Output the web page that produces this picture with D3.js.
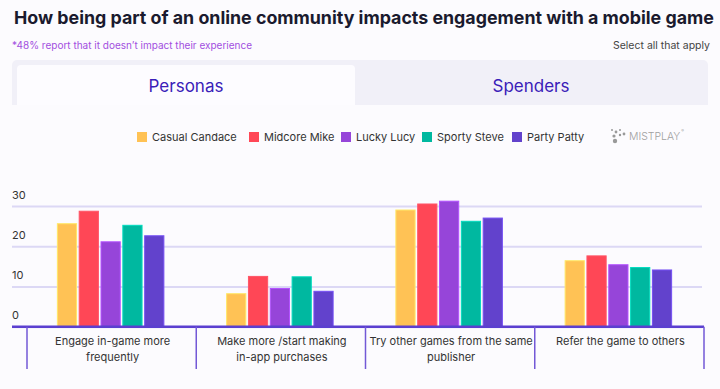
<!DOCTYPE html>
<html>
<head>
<meta charset="utf-8">
<script src="https://cdn.jsdelivr.net/npm/d3@7"></script>
<style>
  html, body { margin: 0; padding: 0; background: #fcfbfe; }
  svg { display: block; font-family: Inter, "Noto Sans", sans-serif; }
</style>
</head>
<body>
<svg id="chart" width="720" height="389"></svg>
<script>
const categories = [
  ['Engage in-game more', 'frequently'],
  ['Make more /start making', 'in-app purchases'],
  ['Try other games from the same', 'publisher'],
  ['Refer the game to others']
];
const seriesNames = ['Casual Candace', 'Midcore Mike', 'Lucky Lucy', 'Sporty Steve', 'Party Patty'];
const seriesColors = ['#ffc255', '#ff4756', '#9645d9', '#00b8a0', '#6242cc'];
const casualCandace = [25.6, 8.2, 29.0, 16.4];
const midcoreMike = [28.7, 12.5, 30.5, 17.6];
const luckyLucy = [21.1, 9.5, 31.2, 15.4];
const sportySteve = [25.2, 12.4, 26.2, 14.7];
const partyPatty = [22.6, 8.8, 27.0, 14.1];
const yTicks = [0, 10, 20, 30];

const values = [casualCandace, midcoreMike, luckyLucy, sportySteve, partyPatty];
const svg = d3.select('#chart');

// title
const title = svg.append('text')
  .attr('x', 14).attr('y', 24)
  .style('font-weight', 700)
  .style('font-size', '17px')
  .style('fill', '#1a1a2e')
  .text('How being part of an online community impacts engagement with a mobile game');
const tw = title.node().getComputedTextLength();
title.style('font-size', (17 * 700 / tw) + 'px');

svg.append('text')
  .attr('x', 12).attr('y', 49)
  .style('font-size', '10px')
  .style('fill', '#a24fe0')
  .text('*48% report that it doesn\u2019t impact their experience');

svg.append('text')
  .attr('x', 710).attr('y', 49)
  .attr('text-anchor', 'end')
  .style('font-size', '10.5px')
  .style('fill', '#444')
  .text('Select all that apply');

// tabs
svg.append('rect')
  .attr('x', 12).attr('y', 60).attr('width', 696).attr('height', 50)
  .attr('rx', 5).attr('fill', '#f1f0f8');
svg.append('rect')
  .attr('x', 17).attr('y', 65).attr('width', 338).attr('height', 45)
  .attr('rx', 4).attr('fill', '#fdfcff');
svg.append('rect')
  .attr('x', 0).attr('y', 105).attr('width', 720).attr('height', 10)
  .attr('fill', '#fcfbfe');
svg.selectAll('.tab')
  .data(['Personas', 'Spenders'])
  .join('text')
  .attr('class', 'tab')
  .attr('x', (d, i) => (i === 0 ? 186 : 531))
  .attr('y', 92)
  .attr('text-anchor', 'middle')
  .style('font-size', '17px')
  .style('fill', '#3a20b8')
  .text((d) => d);

// legend
const legendX = [137, 249, 341, 422, 512];
const legend = svg.selectAll('.legend')
  .data(seriesNames)
  .join('g')
  .attr('class', 'legend')
  .attr('transform', (d, i) => `translate(${legendX[i]},132)`);
legend.append('rect')
  .attr('width', 10).attr('height', 10)
  .attr('fill', (d, i) => seriesColors[i]);
legend.append('text')
  .attr('x', 15).attr('y', 9)
  .style('font-size', '11px')
  .style('fill', '#333')
  .text((d) => d);

// mistplay logo
const logo = svg.append('g').attr('transform', 'translate(611,129)');
[[1, 1, 1], [5, 3, 1.4], [9, 1, 1], [3, 7, 1.6], [9, 6, 1.2], [4, 12, 2.2], [13, 5, 1.4]].forEach((p) => {
  logo.append('circle').attr('cx', p[0]).attr('cy', p[1]).attr('r', p[2]).attr('fill', '#999');
});
const logoText = logo.append('text')
  .attr('x', 18).attr('y', 11)
  .style('font-size', '10.5px')
  .style('font-weight', 300)
  .style('fill', '#a0a0a0')
  .text('MISTPLAY');
logo.append('text')
  .attr('x', 19 + logoText.node().getComputedTextLength())
  .attr('y', 3)
  .style('font-size', '4px')
  .style('fill', '#a0a0a0')
  .text('\u00ae');

// scales
const x0 = d3.scaleBand()
  .domain(d3.range(categories.length))
  .range([26, 703]);
const x1 = d3.scaleBand()
  .domain(d3.range(seriesNames.length))
  .range([0, 106.5])
  .paddingInner(0.12);
const y = d3.scaleLinear().domain([0, 30]).range([326.7, 206]);

// grid + tick labels
const yAxis = svg.append('g')
  .attr('transform', 'translate(12,0)')
  .call(d3.axisRight(y).tickValues(yTicks).tickSize(690));
yAxis.select('.domain').remove();
yAxis.selectAll('.tick line')
  .attr('stroke', '#dcd8f5')
  .attr('stroke-width', 2);
yAxis.selectAll('.tick text')
  .attr('x', 0).attr('dy', -8)
  .attr('text-anchor', 'start')
  .style('font-size', '11px')
  .style('font-family', 'Inter, "Noto Sans", sans-serif')
  .style('fill', '#333');

// bars
const groups = svg.selectAll('.group')
  .data(categories.map((c, ci) => values.map((s, si) => ({ ci, si, value: s[ci] }))))
  .join('g')
  .attr('class', 'group')
  .attr('transform', (d, i) => `translate(${x0(i) + (x0.bandwidth() - 106.5) / 2},0)`);
groups.selectAll('rect')
  .data((d) => d)
  .join('rect')
  .attr('x', (d) => x1(d.si))
  .attr('y', (d) => y(d.value))
  .attr('width', x1.bandwidth())
  .attr('height', (d) => y(0) - y(d.value))
  .attr('fill', (d) => seriesColors[d.si])
  .attr('stroke', (d) => d3.color(seriesColors[d.si]).brighter(0.5))
  .attr('stroke-width', 1);

// baseline
svg.append('line')
  .attr('x1', 12).attr('x2', 704)
  .attr('y1', y(0)).attr('y2', y(0))
  .attr('stroke', '#5b3fd0').attr('stroke-width', 2.5);

// separators
svg.selectAll('.sep')
  .data(d3.range(categories.length + 1))
  .join('line')
  .attr('class', 'sep')
  .attr('x1', (d) => (d < categories.length ? x0(d) : x0(d - 1) + x0.bandwidth()) + 1)
  .attr('x2', (d) => (d < categories.length ? x0(d) : x0(d - 1) + x0.bandwidth()) + 1)
  .attr('y1', y(0)).attr('y2', 369)
  .attr('stroke', '#7358d6').attr('stroke-width', 1.5);

// category labels
svg.selectAll('.cat')
  .data(categories)
  .join('text')
  .attr('class', 'cat')
  .attr('text-anchor', 'middle')
  .style('font-size', '11px')
  .style('fill', '#333')
  .each(function (d, i) {
    const cx = x0(i) + x0.bandwidth() / 2 + 2;
    d3.select(this).selectAll('tspan')
      .data(d)
      .join('tspan')
      .attr('x', cx)
      .attr('y', (t, j) => 345 + j * 16)
      .text((t) => t);
  });
</script>
</body>
</html>
